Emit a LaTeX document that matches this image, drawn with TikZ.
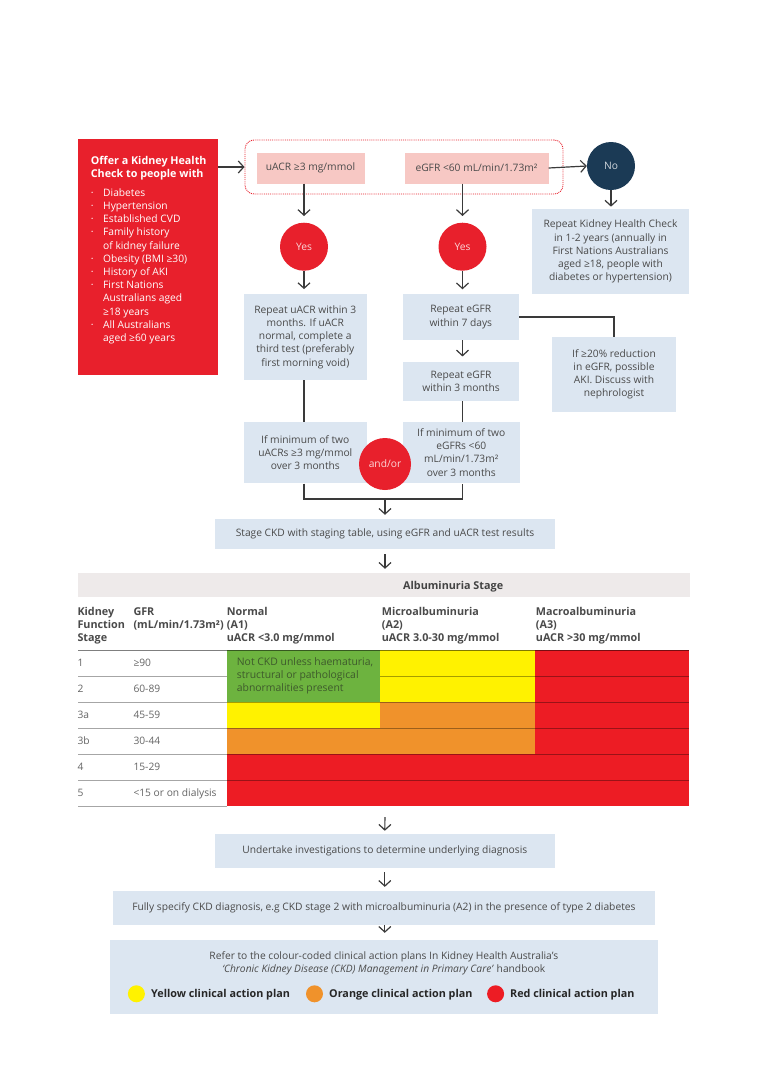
\documentclass[tikz,border=0pt]{standalone}
\usepackage{fontspec}
\setmainfont{Open Sans}
\usetikzlibrary{arrows.meta}
\definecolor{kred}{HTML}{E8202C}
\definecolor{tred}{HTML}{ED1C24}
\definecolor{knavy}{HTML}{1B3A55}
\definecolor{kpink}{HTML}{F7C8C4}
\definecolor{kblue}{HTML}{DCE6F1}
\definecolor{kbar}{HTML}{EEEAEA}
\definecolor{kgreen}{HTML}{6DB33F}
\definecolor{kyellow}{HTML}{FFF200}
\definecolor{korange}{HTML}{F0922B}
\definecolor{ktext}{HTML}{4A4A4A}
\definecolor{kgtext}{HTML}{3E5A2C}
\definecolor{karr}{HTML}{3A3A3A}
\newcommand\fsz{\fontsize{10.25}{13.2}\selectfont}
\newcommand\bul{\makebox[12.3pt][l]{·}}
\newcommand\ind{\hspace*{12.3pt}}
\newcommand\ttl[1]{\textbf{\fontsize{10.75}{13}\selectfont #1}}
\begin{document}
\begin{tikzpicture}[x=1pt,y=-1pt,
  box/.style={fill=kblue, text=ktext, align=center, inner sep=0pt, font=\fsz},
  pbox/.style={fill=kpink, text=ktext, align=center, inner sep=0pt, font=\fsz},
  circ/.style={circle, fill=kred, minimum size=48pt, inner sep=0pt, text=white!82!kred, font=\fsz},
  arr/.style={draw=karr, line width=1.2pt, -{Straight Barb[length=5.5pt,width=12pt,line width=1.2pt]}},
  conn/.style={draw=karr, line width=1.2pt},
  rl/.style={anchor=west, inner sep=0pt, text height=7.3pt, text depth=0pt, font=\fsz, text=ktext!85},
  hdr/.style={anchor=north west, inner sep=0pt, align=left, font=\bfseries\fontsize{10.8}{12.8}\selectfont, text=ktext},
  lgd/.style={anchor=west, inner sep=0pt, text height=7.7pt, text depth=0pt, font=\bfseries\fontsize{10.8}{12}\selectfont, text=black!85},
  rowline/.style={draw=black, opacity=0.35, line width=0.8pt}
]
\fill[white] (0,0) rectangle (768,1090);
\useasboundingbox (0,0) rectangle (768,1090);

% left red box
\node[fill=kred, minimum width=140pt, minimum height=236pt, inner sep=0pt] (offer) at (148,257) {};
\node[anchor=north west, inner sep=0pt, align=left, text=white, font=\fsz] (offertxt) at (90.7,155.6) {\ttl{Offer a Kidney Health}\\
\ttl{Check to people with}\\[5.8pt]
\bul Diabetes\\
\bul Hypertension\\
\bul Established CVD\\
\bul Family history\\
\ind of kidney failure\\
\bul Obesity (BMI ≥30)\\
\bul History of AKI\\
\bul First Nations\\
\ind Australians aged\\
\ind ≥18 years\\
\bul All Australians\\
\ind aged ≥60 years};

% dotted test box
\node[draw=kred, densely dotted, line width=0.9pt, rounded corners=9pt, minimum width=318pt, minimum height=54pt, inner sep=0pt] (tests) at (404,167) {};
\node[pbox, minimum width=108pt, minimum height=31pt] (uacr) at (310.5,168) {uACR ≥3 mg/mmol};
\node[pbox, minimum width=144pt, minimum height=31pt] (egfr) at (476.5,168) {eGFR <60 mL/min/1.73m²};
\draw[arr] (offer.east |- tests.west) -- (tests.west);

% No branch
\node[circ, fill=knavy, text=white!80!knavy] (no) at (611,166) {No};
\draw[arr] (egfr.east) -- (no.west);
\node[box, minimum width=157.6pt, minimum height=84.7pt] (repcheck) at (610.5,251.7) {Repeat Kidney Health Check\\in 1-2 years (annually in\\First Nations Australians\\aged ≥18, people with\\diabetes or hypertension)};
\draw[arr, shorten >=2.5pt] (no.south) -- (no.south |- repcheck.north);

% Yes circles
\node[circ] (yes1) at (304,246.7) {Yes};
\node[circ] (yes2) at (462.5,246.7) {Yes};
\draw[arr, shorten >=6.5pt] (yes1.north |- uacr.south) -- (yes1.north);
\draw[arr, shorten >=6.5pt] (yes2.north |- egfr.south) -- (yes2.north);

% uACR column
\node[box, minimum width=122.7pt, minimum height=86pt] (repu) at (305.3,337) {Repeat uACR within 3\\months. If uACR\\normal, complete a\\third test (preferably\\first morning void)};
\draw[arr, shorten >=4.7pt] (yes1.south) -- (yes1.south |- repu.north);
\node[box, minimum width=122.7pt, minimum height=61.6pt] (minu) at (305.3,452.5) {If minimum of two\\uACRs ≥3 mg/mmol\\over 3 months};
\draw[conn] (yes1.south |- repu.south) -- (yes1.south |- minu.north);

% eGFR column
\node[box, minimum width=116.3pt, minimum height=46pt] (rep7) at (460.8,317) {Repeat eGFR\\within 7 days};
\draw[arr, shorten >=4.5pt] (yes2.south) -- (yes2.south |- rep7.north);
\node[box, minimum width=116.7pt, minimum height=39.3pt] (rep3) at (461,381.3) {Repeat eGFR\\within 3 months};
\draw[arr, shorten >=5pt] (yes2.south |- rep7.south) -- (yes2.south |- rep3.north);
\node[box, minimum width=117.3pt, minimum height=61.6pt] (mine) at (461.3,452.5) {If minimum of two\\eGFRs <60\\mL/min/1.73m²\\over 3 months};
\draw[conn] (yes2.south |- rep3.south) -- (yes2.south |- mine.north);

% AKI
\node[box, minimum width=123.4pt, minimum height=74.4pt] (aki) at (614,374.5) {If ≥20\% reduction\\in eGFR, possible\\AKI. Discuss with\\nephrologist};
\draw[conn] (rep7.east) -| (aki.north);

% and/or
\node[circ, minimum size=52pt] (andor) at (385,464) {and/or};

% join bracket
\coordinate (join) at (385,499);
\draw[conn] (yes1.south |- minu.south) |- (join) -| (yes2.south |- mine.south);
\node[box, minimum width=340pt, minimum height=30pt] (stage) at (385,534.3) {Stage CKD with staging table, using eGFR and uACR test results};
\draw[arr, shorten >=4.3pt] (join) -- (stage.north);

% table header bar
\node[fill=kbar, minimum width=612pt, minimum height=24pt, inner sep=0pt] (albh) at (384,585.3) {};
\node[lgd, text=ktext!90!black] (albt) at (403,585.5) {Albuminuria Stage};
\draw[arr, shorten <=4.5pt, shorten >=4.3pt] (stage.south) -- (stage.south |- albh.north);

% column headers
\node[hdr] (h1) at (77.3,607.3) {Kidney\\Function\\Stage};
\node[hdr] (h2) at (133.3,607.3) {GFR\\(mL/min/1.73m²)};
\node[hdr] (h3) at (226.7,607.3) {Normal\\(A1)\\uACR <3.0 mg/mmol};
\node[hdr] (h4) at (381.7,607.3) {Microalbuminuria\\(A2)\\uACR 3.0-30 mg/mmol};
\node[hdr] (h5) at (535.7,607.3) {Macroalbuminuria\\(A3)\\uACR >30 mg/mmol};

% coloured cells
\fill[kgreen] (227,650) rectangle (380,702);
\fill[kyellow] (380,650) rectangle (535,702);
\fill[tred] (535,650) rectangle (689,754);
\fill[kyellow] (227,702) rectangle (380,728);
\fill[korange] (380,702) rectangle (535,754);
\fill[korange] (227,728) rectangle (380,754);
\fill[tred] (227,754) rectangle (689,806);
\node[anchor=west, inner sep=0pt, align=left, font=\fontsize{10.4}{12.9}\selectfont, text=kgtext] (notckd) at (236.7,676) {Not CKD unless haematuria,\\structural or pathological\\abnormalities present};

% row lines
\draw[rowline, opacity=0.5] (78,650) -- (689,650);
\draw[rowline] (78,676) -- (227,676);
\draw[rowline] (380,676) -- (689,676);
\foreach \yy in {702,728,754,780} {\draw[rowline] (78,\yy) -- (689,\yy);}
\draw[rowline] (78,806) -- (227,806);

% row labels
\node[rl] (r1a) at (77.3,663) {1};   \node[rl] (r1b) at (133.3,663) {≥90};
\node[rl] (r2a) at (77.3,689) {2};   \node[rl] (r2b) at (133.3,689) {60-89};
\node[rl] (r3a) at (77.3,715) {3a};  \node[rl] (r3b) at (133.3,715) {45-59};
\node[rl] (r4a) at (77.3,741) {3b};  \node[rl] (r4b) at (133.3,741) {30-44};
\node[rl] (r5a) at (77.3,767) {4};   \node[rl] (r5b) at (133.3,767) {15-29};
\node[rl] (r6a) at (77.3,793) {5};   \node[rl] (r6b) at (133.3,793) {<15 or on dialysis};

% bottom flow
\coordinate (tbot) at (385,806);
\node[box, minimum width=340.5pt, minimum height=33.5pt] (under) at (384.8,851.2) {Undertake investigations to determine underlying diagnosis};
\draw[arr, shorten <=11pt, shorten >=3.5pt] (tbot) -- (under.north);
\node[box, minimum width=542.3pt, minimum height=33.7pt] (fully) at (383.9,907.9) {Fully specify CKD diagnosis, e.g CKD stage 2 with microalbuminuria (A2) in the presence of type 2 diabetes};
\draw[arr, shorten <=4pt, shorten >=4pt] (under.south) -- (under.south |- fully.north);
\node[box, minimum width=547.5pt, minimum height=73.8pt] (refer) at (383.8,976.9) {};
\draw[arr, shorten >=7pt] (under.south |- fully.south) -- (under.south |- refer.north);
\node[box, fill=none, font=\fontsize{10.25}{13.8}\selectfont] (refertxt) at (383.8,963.3) {Refer to the colour-coded clinical action plans In Kidney Health Australia’s\\\textit{‘Chronic Kidney Disease (CKD) Management in Primary Care’} handbook};
\node[circle, fill=kyellow, minimum size=17pt, inner sep=0pt] (ly) at (136.4,993.8) {};
\node[lgd] (lyt) at (151,993.8) {Yellow clinical action plan};
\node[circle, fill=korange, minimum size=17pt, inner sep=0pt] (lo) at (314.5,993.8) {};
\node[lgd] (lot) at (329,993.8) {Orange clinical action plan};
\node[circle, fill=tred, minimum size=17pt, inner sep=0pt] (lr) at (495.6,993.8) {};
\node[lgd] (lrt) at (510,993.8) {Red clinical action plan};
\end{tikzpicture}
\end{document}
